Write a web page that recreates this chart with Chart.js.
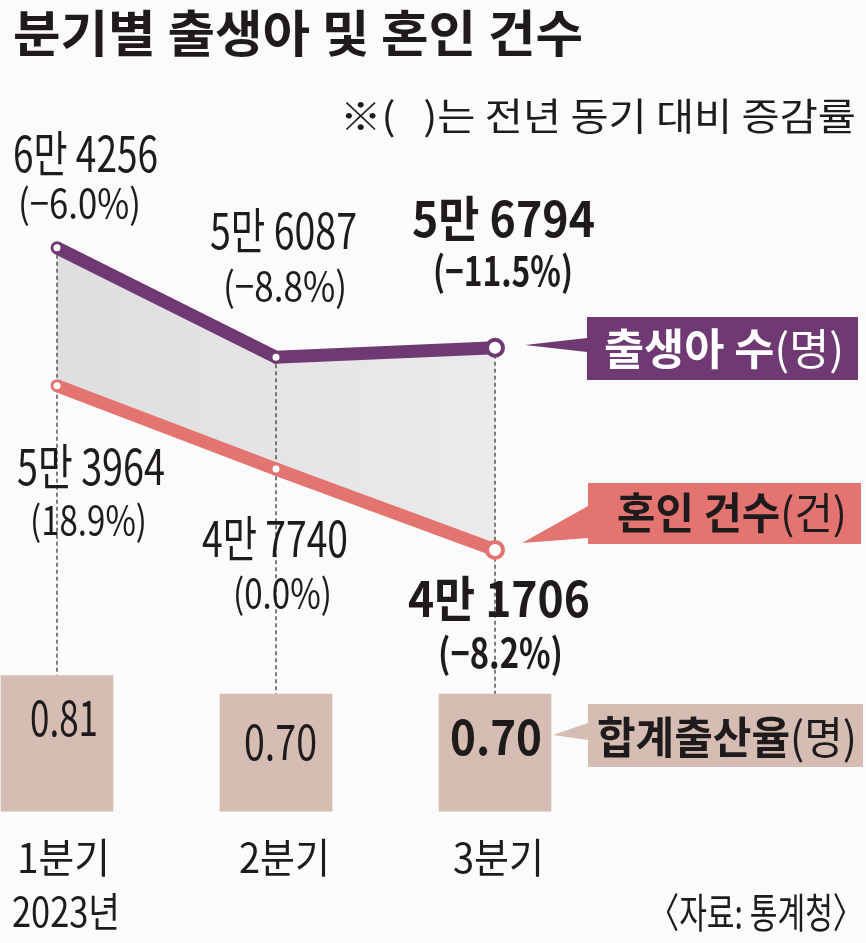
<!DOCTYPE html>
<html>
<head>
<meta charset="utf-8">
<script src="https://cdn.jsdelivr.net/npm/chart.js@4.4.1/dist/chart.umd.min.js"></script>
<style>
  html, body { margin: 0; padding: 0; background: #fbfbfb; }
  #wrap { width: 866px; height: 943px; }
</style>
</head>
<body>
<div id="wrap"><canvas id="myChart" width="866" height="943"></canvas></div>
<script>
// data
var quarters = ['1분기', '2분기', '3분기'];
var yearLabel = '2023년';
var births = [64256, 56087, 56794];
var birthsPct = ['−6.0%', '−8.8%', '−11.5%'];
var marriages = [53964, 47740, 41706];
var marriagesPct = ['18.9%', '0.0%', '−8.2%'];
var fertility = [0.81, 0.70, 0.70];

var PURPLE = '#6f3a73';
var SALMON = '#e47470';
var TAN = '#d6bdb3';
var INK = '#1f1b1c';
var FONT = '"Noto Sans CJK KR", "Noto Sans", sans-serif';

// 6만 4256 style
function manFormat(v) {
    return Math.floor(v / 10000) + '만 ' + (v % 10000);
}

// draw condensed text squeezed to a given width
function drawText(ctx, str, x, y, size, weight, color, align, width) {
    ctx.save();
    ctx.font = weight + ' ' + size + 'px ' + FONT;
    var sx = width ? width / ctx.measureText(str).width : 1;
    ctx.translate(x, y);
    ctx.scale(sx, 1);
    ctx.fillStyle = color;
    ctx.textAlign = align;
    ctx.textBaseline = 'alphabetic';
    ctx.fillText(str, 0, 0);
    ctx.restore();
}

// bold part + regular part, left aligned
function drawMixed(ctx, boldStr, regStr, x, y, size, color, width) {
    ctx.save();
    ctx.font = 'bold ' + size + 'px ' + FONT;
    var w1 = ctx.measureText(boldStr).width;
    ctx.font = 'normal ' + size + 'px ' + FONT;
    var w2 = ctx.measureText(regStr).width;
    var sx = width / (w1 + w2);
    ctx.translate(x, y);
    ctx.scale(sx, 1);
    ctx.fillStyle = color;
    ctx.textAlign = 'left';
    ctx.textBaseline = 'alphabetic';
    ctx.font = 'bold ' + size + 'px ' + FONT;
    ctx.fillText(boldStr, 0, 0);
    ctx.font = 'normal ' + size + 'px ' + FONT;
    ctx.fillText(regStr, w1, 0);
    ctx.restore();
}

function tag(ctx, color, box, tri) {
    ctx.save();
    ctx.fillStyle = color;
    ctx.fillRect(box[0], box[1], box[2], box[3]);
    ctx.beginPath();
    ctx.moveTo(tri[0], tri[1]);
    ctx.lineTo(tri[2], tri[3]);
    ctx.lineTo(tri[4], tri[5]);
    ctx.closePath();
    ctx.fill();
    ctx.restore();
}

/******************************************************/
// background
var bgPlugin = {
    id: 'bg',
    beforeDraw: function (chart) {
        var ctx = chart.ctx;
        ctx.save();
        ctx.fillStyle = '#fbfbfb';
        ctx.fillRect(0, 0, chart.width, chart.height);
        ctx.restore();
    }
};

// dotted guides from the birth point down to the rate box
var guidePlugin = {
    id: 'guides',
    beforeDatasetsDraw: function (chart) {
        var ctx = chart.ctx;
        var x = chart.scales.x, y = chart.scales.y, y2 = chart.scales.y2;
        ctx.save();
        ctx.strokeStyle = '#3a3a3a';
        ctx.lineWidth = 1.3;
        ctx.setLineDash([4, 3]);
        for (var i = 0; i < quarters.length; i++) {
            var px = x.getPixelForValue(i);
            ctx.beginPath();
            ctx.moveTo(px, y.getPixelForValue(births[i]));
            ctx.lineTo(px, y2.getPixelForValue(fertility[i]));
            ctx.stroke();
        }
        ctx.restore();
    }
};

// titles, value labels and tags
var labelPlugin = {
    id: 'labels',
    afterDraw: function (chart) {
        var ctx = chart.ctx;

        drawText(ctx, '분기별 출생아 및 혼인 건수', 13, 52, 50, 'bold', INK, 'left', 570);
        drawText(ctx, '※(   )는 전년 동기 대비 증감률', 340, 130, 38, 'normal', INK, 'left', 516);

        // births
        drawText(ctx, manFormat(births[0]), 13, 172, 49, 'normal', INK, 'left', 145);
        drawText(ctx, '(' + birthsPct[0] + ')', 18, 218, 40, 'normal', INK, 'left', 123);
        drawText(ctx, manFormat(births[1]), 210, 249, 49, 'normal', INK, 'left', 147);
        drawText(ctx, '(' + birthsPct[1] + ')', 223, 301, 40, 'normal', INK, 'left', 124);
        drawText(ctx, manFormat(births[2]), 412, 237, 49, 'bold', INK, 'left', 183);
        drawText(ctx, '(' + birthsPct[2] + ')', 433, 286, 40, 'bold', INK, 'left', 140);

        // marriages
        drawText(ctx, manFormat(marriages[0]), 17, 485, 49, 'normal', INK, 'left', 148);
        drawText(ctx, '(' + marriagesPct[0] + ')', 30, 535, 40, 'normal', INK, 'left', 117);
        drawText(ctx, manFormat(marriages[1]), 202, 557, 49, 'normal', INK, 'left', 146);
        drawText(ctx, '(' + marriagesPct[1] + ')', 233, 608, 40, 'normal', INK, 'left', 99);
        drawText(ctx, manFormat(marriages[2]), 408, 617, 49, 'bold', INK, 'left', 182);
        drawText(ctx, '(' + marriagesPct[2] + ')', 438, 668, 40, 'bold', INK, 'left', 125);

        // fertility values in the boxes
        drawText(ctx, fertility[0].toFixed(2), 30, 736, 49, 'normal', INK, 'left', 68);
        drawText(ctx, fertility[1].toFixed(2), 244, 760, 49, 'normal', INK, 'left', 73);
        drawText(ctx, fertility[2].toFixed(2), 450, 755, 49, 'bold', INK, 'left', 92);

        // quarter labels
        drawText(ctx, quarters[0], 17, 873, 41, 'normal', INK, 'left', 93);
        drawText(ctx, yearLabel, 12, 927, 41, 'normal', INK, 'left', 108);
        drawText(ctx, quarters[1], 239, 873, 41, 'normal', INK, 'left', 91);
        drawText(ctx, quarters[2], 453, 873, 41, 'normal', INK, 'left', 91);

        drawText(ctx, '〈자료: 통계청〉', 863, 928, 41, 'normal', INK, 'right', 214);

        // tags
        tag(ctx, PURPLE, [587, 317, 271, 63], [587, 338, 525, 345, 587, 352]);
        drawMixed(ctx, '출생아 수', '(명)', 604, 365, 43, '#ffffff', 240);

        tag(ctx, SALMON, [588, 483, 273, 61], [588, 506, 522, 543, 588, 538]);
        drawMixed(ctx, '혼인 건수', '(건)', 617, 529, 43, INK, 230);

        tag(ctx, TAN, [588, 704, 275, 63], [588, 723, 553, 735, 588, 740]);
        drawMixed(ctx, '합계출산율', '(명)', 597, 754, 44, INK, 260);
    }
};

/******************************************************/
var ctx = document.getElementById('myChart').getContext('2d');
var myChart = new Chart(ctx, {
    data: {
        labels: quarters,
        datasets: [
            {
                type: 'bar',
                label: '합계출산율',
                data: fertility,
                yAxisID: 'y2',
                backgroundColor: TAN,
                barThickness: 112,
                clip: false,
                order: 3
            }, {
                type: 'line',
                label: '출생아 수',
                data: births,
                yAxisID: 'y',
                borderColor: PURPLE,
                borderWidth: 13,
                pointRadius: [5, 5, 8],
                pointBorderWidth: [3, 3, 4],
                pointBackgroundColor: '#ffffff',
                pointBorderColor: PURPLE,
                tension: 0,
                fill: false,
                clip: false,
                order: 1
            }, {
                type: 'line',
                label: '혼인 건수',
                data: marriages,
                yAxisID: 'y',
                borderColor: SALMON,
                borderWidth: 13,
                pointRadius: [5, 5, 8],
                pointBorderWidth: [3, 3, 4],
                pointBackgroundColor: '#ffffff',
                pointBorderColor: SALMON,
                tension: 0,
                fill: 1,
                backgroundColor: function (context) {
                    var area = context.chart.chartArea;
                    if (!area) return '#e5e5e5';
                    var g = context.chart.ctx.createLinearGradient(area.left, 0, area.right, 0);
                    g.addColorStop(0, '#dedede');
                    g.addColorStop(1, '#ebebeb');
                    return g;
                },
                clip: false,
                order: 2
            }
        ]
    },
    options: {
        responsive: false,
        animation: false,
        devicePixelRatio: 1,
        layout: { padding: { left: 57, right: 371, top: 0, bottom: 0 } },
        scales: {
            x: { type: 'category', offset: false, display: false },
            y: { type: 'linear', display: false, min: 13260, max: 81860 },
            y2: { type: 'linear', display: false, min: -0.717, max: 4.779 }
        },
        plugins: {
            legend: { display: false },
            tooltip: { enabled: false },
            filler: { drawTime: 'beforeDatasetsDraw' }
        },
        events: []
    },
    plugins: [bgPlugin, guidePlugin, labelPlugin]
});
</script>
</body>
</html>
